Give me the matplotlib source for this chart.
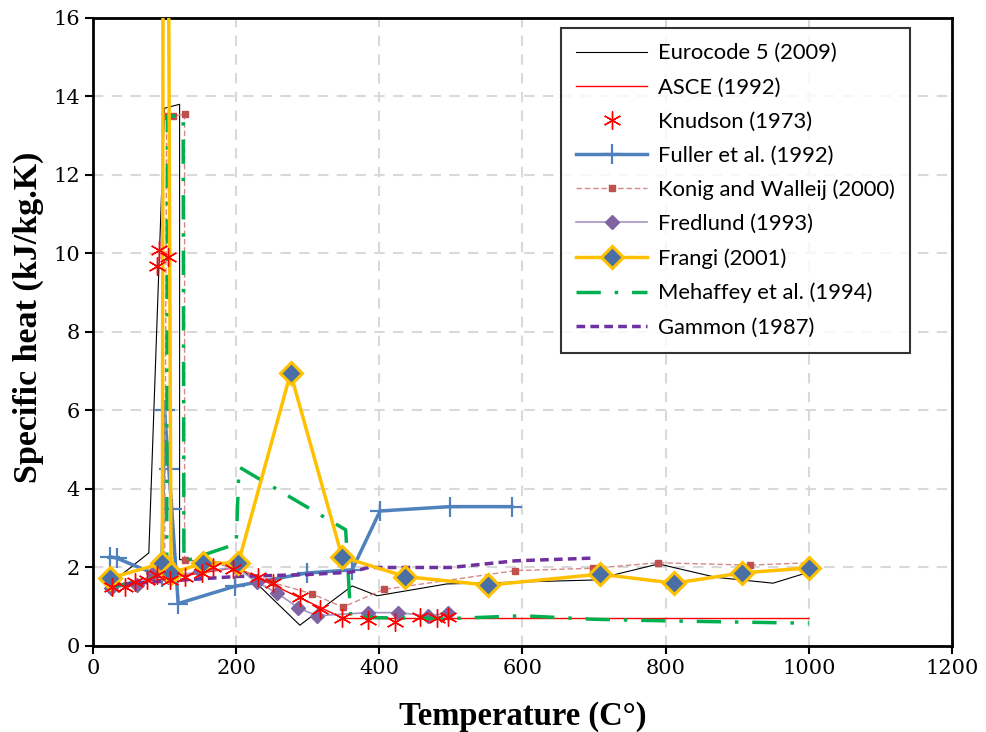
import matplotlib
matplotlib.use("Agg")
import matplotlib.pyplot as plt

# Eurocode 5 (2009)
ec5_t = [25, 78, 100, 121, 121, 200, 289, 362, 397, 494, 698, 790, 870, 950, 1000]
ec5_c = [1.6, 2.37, 13.7, 13.8, 2.2, 2.1, 0.53, 1.53, 1.28, 1.58, 1.68, 2.09, 1.75, 1.6, 1.88]

# ASCE (1992)
asce_t = [25, 200, 350, 1000]
asce_c = [1.5, 2.0, 0.7, 0.7]

# Knudson (1973) - points only
knud_t = [26, 45, 59, 75, 89, 92, 90, 105, 108, 128, 152, 168, 196, 231, 252, 289, 317, 348, 384, 422, 457, 480, 496]
knud_c = [1.5, 1.5, 1.62, 1.68, 1.8, 10.1, 9.68, 9.92, 1.68, 1.76, 1.85, 2.0, 1.96, 1.76, 1.6, 1.25, 0.94, 0.71, 0.65, 0.62, 0.75, 0.71, 0.74]

# Fuller et al. (1992)
full_t = [24, 33, 96, 100, 106, 110, 119, 198, 299, 362, 401, 499, 585]
full_c = [2.27, 2.24, 1.76, 6.0, 4.5, 3.5, 1.08, 1.52, 1.86, 1.94, 3.44, 3.55, 3.55]

# Konig and Walleij (2000)
konig_t = [25, 100, 103, 112, 128, 128, 200, 250, 306, 349, 406, 590, 698, 790, 918, 1000]
konig_c = [1.55, 1.75, 13.5, 13.5, 13.55, 2.2, 2.0, 1.62, 1.33, 0.99, 1.44, 1.92, 1.98, 2.12, 2.06, 2.12]

# Fredlund (1993)
fred_t = [25, 61, 84, 105, 150, 200, 229, 257, 287, 313, 384, 426, 468, 496]
fred_c = [1.48, 1.55, 1.86, 1.75, 1.9, 2.0, 1.63, 1.35, 0.97, 0.77, 0.85, 0.85, 0.77, 0.83]

# Frangi (2001) - spike leaves the plot above 16
fran_t = [24, 97, 98, 105, 109, 154, 203, 276, 348, 436, 552, 708, 812, 906, 1000]
fran_c = [1.73, 2.11, 20, 20, 1.86, 2.11, 2.11, 6.95, 2.27, 1.77, 1.55, 1.83, 1.6, 1.86, 1.99]
fran_marks = [0, 1, 4, 5, 6, 7, 8, 9, 10, 11, 12, 13, 14]

# Mehaffey et al. (1994)
meh_t = [25, 103, 104, 126, 127, 200, 204, 353, 360, 400, 500, 600, 700, 800, 1000]
meh_c = [1.5, 1.8, 13.5, 13.5, 2.15, 2.6, 4.56, 2.96, 0.75, 0.72, 0.7, 0.77, 0.68, 0.64, 0.58]

# Gammon (1987)
gam_t = [25, 100, 200, 300, 360, 385, 500, 590, 700]
gam_c = [1.55, 1.65, 1.77, 1.82, 1.88, 2.0, 2.0, 2.17, 2.24]

fig = plt.figure(figsize=(9.86, 7.32), dpi=100)
ax = fig.add_axes([0.0943, 0.1175, 0.8712, 0.858])

ax.plot(ec5_t, ec5_c, color="black", lw=0.8, label="Eurocode 5 (2009)", zorder=3)
ax.plot(asce_t, asce_c, color="red", lw=1.0, label="ASCE (1992)", zorder=3)
ax.plot(knud_t, knud_c, ls="none", marker=(6, 2, 0), ms=13, mew=1.0,
        color="red", label="Knudson (1973)", zorder=7)
ax.plot(full_t, full_c, color="#4F81BD", lw=2.5, marker="+", ms=14, mew=1.6,
        label="Fuller et al. (1992)", zorder=4)
ax.plot(konig_t, konig_c, color="#D48A88", lw=1.0, ls=(0, (4, 2)), marker="s", ms=4,
        mfc="#C0504D", mec="#C0504D", label="Konig and Walleij (2000)", zorder=4)
ax.plot(fred_t, fred_c, color="#A593C2", lw=1.2, marker="D", ms=7,
        mfc="#8064A2", mec="#8064A2", label="Fredlund (1993)", zorder=4)
ax.plot(fran_t, fran_c, color="#FFC000", lw=2.5, marker="D", ms=11, mew=2.2,
        mfc="#4A6FA5", mec="#FFC000", markevery=fran_marks, label="Frangi (2001)", zorder=5)
ax.plot(meh_t, meh_c, color="#00B050", lw=2.5, ls=(0, (7, 4, 1, 4)),
        label="Mehaffey et al. (1994)", zorder=4)
ax.plot(gam_t, gam_c, color="#7030A0", lw=2.5, ls=(0, (2.5, 1.5)),
        label="Gammon (1987)", zorder=4)

ax.set_xlim(0, 1200)
ax.set_ylim(0, 16)
ax.set_xticks(range(0, 1201, 200))
ax.set_yticks(range(0, 17, 2))
ax.grid(True, color="#D9D9D9", lw=1.5, ls=(0, (5, 4)))
ax.set_axisbelow(True)
for s in ax.spines.values():
    s.set_linewidth(2)
ax.tick_params(direction="out", length=6, width=1.5, labelsize=15)
for lab in ax.get_xticklabels() + ax.get_yticklabels():
    lab.set_family("DejaVu Serif")

ax.set_xlabel("Temperature (C°)", family="Liberation Serif", weight="bold", fontsize=23.5)
ax.set_ylabel("Specific heat (kJ/kg.K)", family="Liberation Serif", weight="bold", fontsize=24.5)
ax.xaxis.set_label_coords(0.5, -0.087)
ax.yaxis.set_label_coords(-0.057, 0.524)

leg = ax.legend(loc="upper right", bbox_to_anchor=(0.951, 0.984), prop={"family": "Lato", "size": 15.8},
                frameon=True, fancybox=False, edgecolor="black", handlelength=3.2,
                labelspacing=0.64, borderpad=0.7, handletextpad=0.5, borderaxespad=0)
leg.get_frame().set_linewidth(1.5)
leg.set_zorder(10)

fig.savefig("out.png", dpi=100)
